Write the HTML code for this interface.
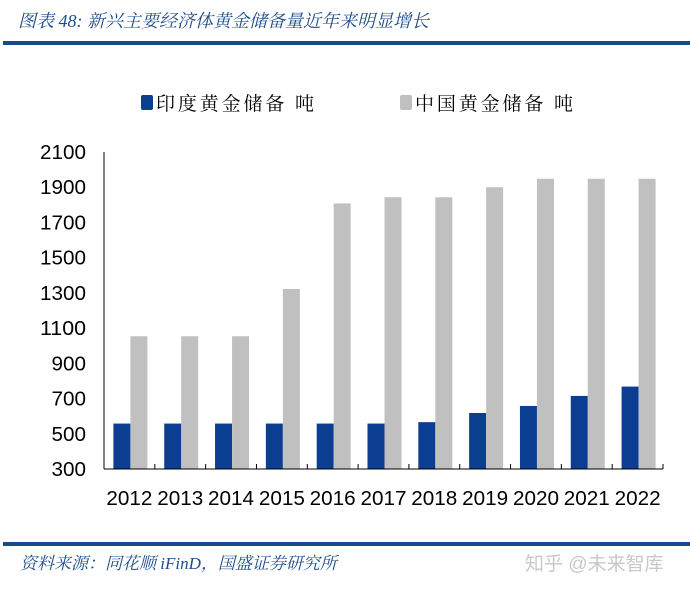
<!DOCTYPE html>
<html><head><meta charset="utf-8"><style>
body{margin:0;background:#fff;width:690px;height:589px;overflow:hidden;position:relative;font-family:"Liberation Sans","Noto Sans CJK SC",sans-serif}
.t{position:absolute;left:18px;top:7px;font-size:18px;font-style:italic;color:#1f4e8c;font-family:"Liberation Serif","Noto Serif CJK SC",serif}
.hl{position:absolute;left:3px;width:687px;height:4px;background:#174a8b}
.f{position:absolute;left:20px;top:549px;font-size:17px;font-style:italic;color:#1f4e8c;font-family:"Liberation Serif","Noto Serif CJK SC",serif}
.w{position:absolute;left:525px;top:549px;font-size:19px;color:#c8c8c8}
</style></head><body>
<div class="t">图表 48:  新兴主要经济体黄金储备量近年来明显增长</div>
<div class="hl" style="top:41px"></div>
<svg id="c" width="690" height="589" style="position:absolute;left:0;top:0"></svg>
<div class="hl" style="top:542px"></div>
<div class="f">资料来源：同花顺 iFinD，国盛证券研究所</div>
<div class="w">知乎 @未来智库</div>
<script>
const years=["2012","2013","2014","2015","2016","2017","2018","2019","2020","2021","2022"];
const india=[558,558,558,558,558,558,566,618,658,715,768];
const china=[1054,1054,1054,1322,1808,1843,1843,1900,1948,1948,1948];
const yTicks=[300,500,700,900,1100,1300,1500,1700,1900,2100];
const NS="http://www.w3.org/2000/svg";
const svg=document.getElementById('c');
const x0=104,x1=663,y0=469,y1=152,vmin=300,vmax=2100;
const bw=(x1-x0)/years.length;
const ys=v=>y0-(v-vmin)/(vmax-vmin)*(y0-y1);
function mk(t,a){const e=document.createElementNS(NS,t);for(const k in a)e.setAttribute(k,a[k]);svg.appendChild(e);return e;}
yTicks.forEach(v=>{const s=String(v);const e=mk('text',{x:86,y:ys(v)+7,'text-anchor':'end','font-size':20,fill:'#000','textLength':s.length*11.5,'lengthAdjust':'spacingAndGlyphs'});e.textContent=s;

});
years.forEach((y,i)=>{const cx=x0+bw*(i+0.5);
const b1=mk('rect',{x:cx-16,y:ys(india[i]),width:17,height:y0-ys(india[i]),fill:'#0b3d91'});


const b2=mk('rect',{x:cx+1,y:ys(china[i]),width:17,height:y0-ys(china[i]),fill:'#c0c0c0'});


const t=mk('text',{x:cx,y:505,'text-anchor':'middle','font-size':20,fill:'#000','textLength':46,'lengthAdjust':'spacingAndGlyphs'});t.textContent=y;

});
const ax=mk('line',{x1:x0,y1:y1,x2:x0,y2:y0,stroke:'#000'});


const xa=mk('line',{x1:x0,y1:y0,x2:x1,y2:y0,stroke:'#000'});


for(let i=0;i<=years.length;i++){const tk=mk('line',{x1:x0+bw*i,y1:y0,x2:x0+bw*i,y2:y0-5,stroke:'#000'});

}
[['#0b3d91',141,'印度黄金储备 吨','legend-india'],['#c0c0c0',400,'中国黄金储备 吨','legend-china']].forEach(l=>{
const r=mk('rect',{x:l[1],y:95,width:12,height:15,fill:l[0],rx:2});


const t=mk('text',{x:l[1]+15,y:110,'font-size':19,fill:'#000','font-family':'Noto Serif CJK SC, serif','textLength':158,'lengthAdjust':'spacing'});t.textContent=l[2];

});
</script>
</body></html>
